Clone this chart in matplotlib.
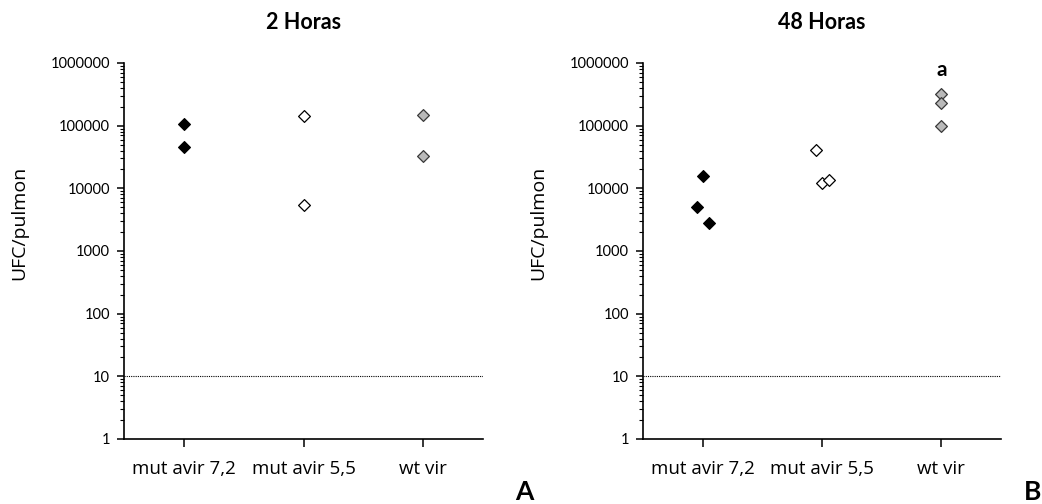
import matplotlib
matplotlib.use("Agg")
import matplotlib.pyplot as plt
from matplotlib.ticker import LogLocator, FixedLocator, FuncFormatter, NullFormatter

plt.rcParams['font.family'] = ['Lato', 'DejaVu Sans']

categories = ["mut avir 7,2", "mut avir 5,5", "wt vir"]

# UFC per lung, 2 hours post infection
h2_mut72 = [105000, 45000]
h2_mut55 = [143000, 5500]
h2_wtvir = [150000, 33000]

# UFC per lung, 48 hours post infection
h48_mut72 = [16000, 5000, 2800]
h48_mut55 = [41000, 12000, 13500]
h48_wtvir = [320000, 230000, 97000]

# small horizontal spread so overlapping replicates stay visible
h2_offsets = [[0.0, 0.0], [0.0, 0.0], [0.0, 0.0]]
h48_offsets = [[0.0, -0.05, 0.056], [-0.05, 0.0, 0.058], [0.0, 0.0, 0.0]]

detection_limit = 10

styles = [
    dict(facecolor="black", edgecolor="black"),
    dict(facecolor="white", edgecolor="black"),
    dict(facecolor="#b9b9b9", edgecolor="#3a3a3a"),
]

W, H = 1042, 504
fig = plt.figure(figsize=(W / 100, H / 100), dpi=100)
ax_a = fig.add_axes([124 / W, 1 - 439 / H, 359 / W, 376 / H])
ax_b = fig.add_axes([643 / W, 1 - 439 / H, 358 / W, 376 / H])


def draw_panel(ax, title, groups, offsets):
    for i, (vals, offs) in enumerate(zip(groups, offsets)):
        xs = [i + 1 + o for o in offs]
        ax.scatter(xs, vals, marker="D", s=36, linewidths=0.9,
                   zorder=3, **styles[i])
    ax.set_yscale("log")
    ax.set_ylim(1, 1e6)
    ax.set_xlim(0.5, 3.5)
    ax.axhline(detection_limit, color="black", linestyle=(0, (1, 1)),
               linewidth=0.8, zorder=1)
    ax.set_xticks([1, 2, 3])
    ax.set_xticklabels(categories, fontfamily="Open Sans", fontsize=13.5)
    ax.yaxis.set_major_locator(FixedLocator([1, 10, 100, 1000, 1e4, 1e5, 1e6]))
    ax.yaxis.set_major_formatter(FuncFormatter(lambda v, p: f"{int(round(v))}"))
    ax.yaxis.set_minor_locator(LogLocator(base=10, subs=range(2, 10), numticks=20))
    ax.yaxis.set_minor_formatter(NullFormatter())
    for lab in ax.get_yticklabels():
        lab.set_fontsize(10.5)
    ax.tick_params(axis="y", which="major", direction="out", length=5,
                   width=1.1, pad=5)
    ax.tick_params(axis="y", which="minor", direction="out", length=3,
                   width=0.8)
    ax.tick_params(axis="x", which="major", direction="out", length=6,
                   width=1.1, pad=9)
    for side in ("top", "right"):
        ax.spines[side].set_visible(False)
    for side in ("left", "bottom"):
        ax.spines[side].set_linewidth(1.2)

    # panel title and y-axis label, placed in figure pixels
    bbox = ax.get_position()
    cx = (bbox.x0 + bbox.x1) / 2
    fig.text(cx, 1 - 29 / H, title, ha="center", va="baseline",
             fontweight="bold", fontsize=15.5)
    fig.text(bbox.x0 - 105 / W, 1 - 223 / H, "UFC/pulmon", rotation=90,
             ha="center", va="center", fontfamily="Open Sans", fontsize=14)


draw_panel(ax_a, "2 Horas", [h2_mut72, h2_mut55, h2_wtvir], h2_offsets)
draw_panel(ax_b, "48 Horas", [h48_mut72, h48_mut55, h48_wtvir], h48_offsets)

# significance mark above the wild-type group at 48 h
ax_b.annotate("a", xy=(3, max(h48_wtvir)), xytext=(0, 13),
              textcoords="offset points", ha="center", va="baseline",
              fontweight="bold", fontsize=15)

fig.text(524 / W, 1 - 492 / H, "A", ha="center", va="center",
         fontweight="bold", fontsize=19)
fig.text(1033 / W, 1 - 492 / H, "B", ha="center", va="center",
         fontweight="bold", fontsize=19)

fig.savefig("out.png", dpi=100, facecolor="white")
